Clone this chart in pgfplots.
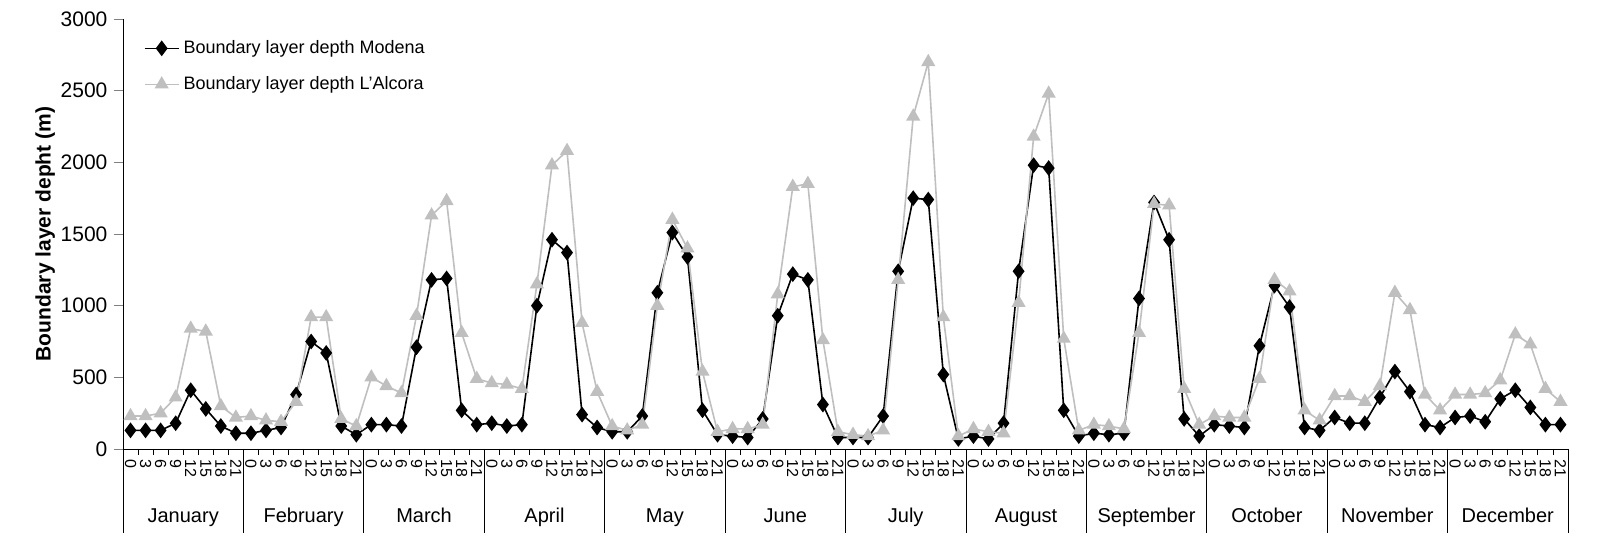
\documentclass[border=0pt]{standalone}
\usepackage{pgfplots}
\pgfplotsset{compat=1.18}
\usepackage{fontspec}
\setmainfont{Liberation Sans}
\begin{document}
\begin{tikzpicture}
\begin{axis}[
  at={(0,0)}, anchor=south west, scale only axis,
  width=722.5pt, height=215pt,
  xmin=0, xmax=96, ymin=0, ymax=3000,
  axis lines*=left, clip=false,
  ytick={0,500,...,3000}, tick align=outside, ytick pos=left,
  yticklabel style={font=\fontsize{10.5}{12}\selectfont},
  /pgf/number format/assume math mode=true,
  /pgf/number format/1000 sep={},
  ylabel={\textbf{Boundary layer depht (m)}},
  ylabel style={font=\fontsize{10.5}{12}\selectfont, yshift=-4pt},
  xtick={0.5,1.5,...,95.5}, major x tick style={draw=none},
  xticklabels={0,3,6,9,12,15,18,21,0,3,6,9,12,15,18,21,0,3,6,9,12,15,18,21,0,3,6,9,12,15,18,21,0,3,6,9,12,15,18,21,0,3,6,9,12,15,18,21,0,3,6,9,12,15,18,21,0,3,6,9,12,15,18,21,0,3,6,9,12,15,18,21,0,3,6,9,12,15,18,21,0,3,6,9,12,15,18,21,0,3,6,9,12,15,18,21},
  xticklabel style={rotate=-90, anchor=west, font=\fontsize{8}{8}\selectfont, inner sep=1pt},
  legend style={at={(0.01,0.97)}, anchor=north west, draw=none, fill=none, font=\fontsize{9}{10}\selectfont, row sep=6pt},
  legend cell align=left,
]
\addplot[black, thick, mark=diamond*, mark size=3.3pt, mark options={fill=black}] table {
x y
0.5 130
1.5 130
2.5 130
3.5 180
4.5 410
5.5 280
6.5 160
7.5 110
8.5 110
9.5 130
10.5 150
11.5 380
12.5 750
13.5 670
14.5 160
15.5 100
16.5 170
17.5 170
18.5 160
19.5 710
20.5 1180
21.5 1190
22.5 270
23.5 170
24.5 180
25.5 160
26.5 170
27.5 1000
28.5 1460
29.5 1370
30.5 240
31.5 150
32.5 120
33.5 120
34.5 230
35.5 1090
36.5 1510
37.5 1340
38.5 270
39.5 100
40.5 90
41.5 80
42.5 210
43.5 930
44.5 1220
45.5 1180
46.5 310
47.5 80
48.5 80
49.5 80
50.5 230
51.5 1240
52.5 1750
53.5 1740
54.5 520
55.5 70
56.5 90
57.5 70
58.5 180
59.5 1240
60.5 1980
61.5 1960
62.5 270
63.5 90
64.5 110
65.5 100
66.5 110
67.5 1050
68.5 1720
69.5 1460
70.5 210
71.5 90
72.5 170
73.5 160
74.5 150
75.5 720
76.5 1140
77.5 990
78.5 150
79.5 130
80.5 220
81.5 180
82.5 180
83.5 360
84.5 540
85.5 400
86.5 170
87.5 150
88.5 220
89.5 230
90.5 190
91.5 350
92.5 410
93.5 290
94.5 170
95.5 170
};
\addlegendentry{Boundary layer depth Modena}
\addplot[black!25, thick, mark=triangle*, mark size=3.3pt, mark options={fill=black!25}] table {
x y
0.5 230
1.5 230
2.5 250
3.5 360
4.5 840
5.5 820
6.5 300
7.5 220
8.5 230
9.5 200
10.5 190
11.5 330
12.5 920
13.5 920
14.5 210
15.5 160
16.5 500
17.5 440
18.5 390
19.5 930
20.5 1630
21.5 1730
22.5 810
23.5 490
24.5 460
25.5 450
26.5 420
27.5 1150
28.5 1980
29.5 2080
30.5 880
31.5 400
32.5 160
33.5 130
34.5 170
35.5 1000
36.5 1600
37.5 1400
38.5 540
39.5 120
40.5 140
41.5 140
42.5 170
43.5 1080
44.5 1830
45.5 1850
46.5 760
47.5 120
48.5 100
49.5 90
50.5 130
51.5 1180
52.5 2320
53.5 2700
54.5 920
55.5 90
56.5 140
57.5 120
58.5 110
59.5 1020
60.5 2180
61.5 2480
62.5 770
63.5 130
64.5 170
65.5 160
66.5 140
67.5 810
68.5 1710
69.5 1700
70.5 420
71.5 170
72.5 230
73.5 220
74.5 220
75.5 490
76.5 1180
77.5 1100
78.5 270
79.5 200
80.5 370
81.5 370
82.5 330
83.5 440
84.5 1090
85.5 970
86.5 380
87.5 270
88.5 380
89.5 380
90.5 390
91.5 480
92.5 800
93.5 730
94.5 420
95.5 330
};
\addlegendentry{Boundary layer depth L'Alcora}
\foreach \k in {0,8,...,96} {
  \edef\temp{\noexpand\draw[black, thin] (axis cs:\k,0) -- ++(0,-42pt);}
  \temp
}
\foreach \k in {0,1,...,95} {
  \edef\temp{\noexpand\draw[black, thin] (axis cs:\k,0) -- ++(0,-3pt);}
  \temp
}
\foreach \m/\n in {0/January,1/February,2/March,3/April,4/May,5/June,6/July,7/August,8/September,9/October,10/November,11/December} {
  \pgfmathsetmacro{\xc}{8*\m+4}
  \edef\temp{\noexpand\node[font=\noexpand\fontsize{10}{11}\noexpand\selectfont, anchor=base] at ([yshift=-37pt]axis cs:\xc,0) {\n};}
  \temp
}
\end{axis}
\pgfresetboundingbox
\path[use as bounding box] (-61.5pt,-53.5pt) rectangle (747.5pt,224.5pt);
\end{tikzpicture}
\end{document}
